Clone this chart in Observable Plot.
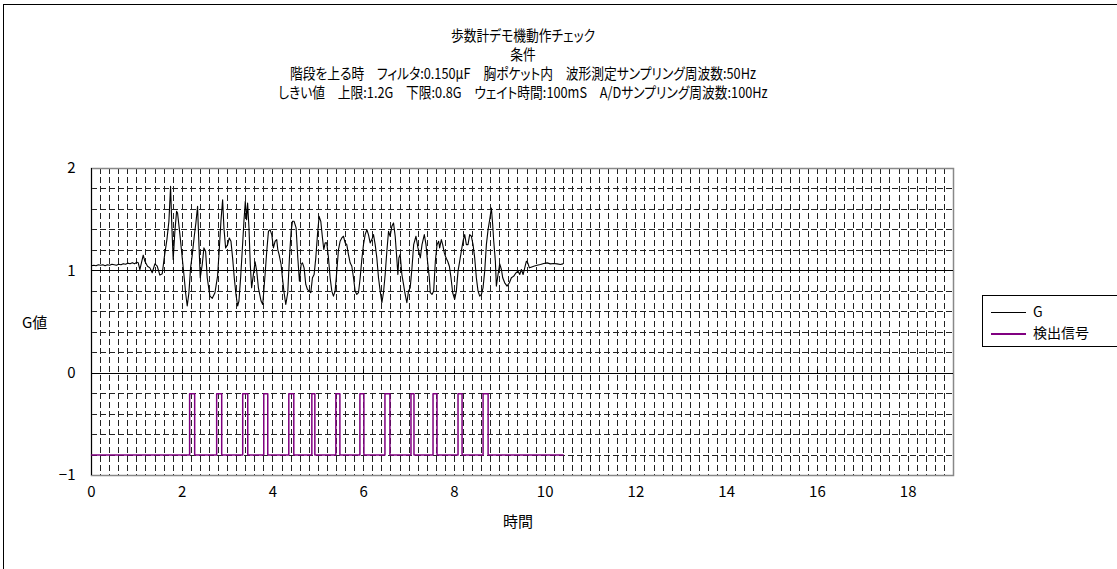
<!DOCTYPE html>
<html><head><meta charset="utf-8">
<script src="https://cdn.jsdelivr.net/npm/d3@7"></script>
<script src="https://cdn.jsdelivr.net/npm/@observablehq/plot@0.6"></script>
<style>
body{margin:0;background:#fff;font-family:"Noto Sans CJK JP",sans-serif;}
#wrap{position:relative;width:1117px;height:569px;overflow:hidden;background:#fff;}
#border{position:absolute;left:3px;top:4px;width:1300px;height:800px;border:1px solid #000;}
.t{position:absolute;left:0;width:1046px;text-align:center;font-size:15px;line-height:16px;color:#000;font-feature-settings:"palt";white-space:nowrap;transform:scaleX(0.85);transform-origin:523px 0;}
.lab{position:absolute;font-size:15px;line-height:16px;color:#000;white-space:nowrap;font-feature-settings:"palt";}
#legend{position:absolute;left:982px;top:295px;width:160px;height:50px;border:1px solid #000;background:#fff;}
.lg{position:absolute;left:8px;width:35px;}
.lt{position:absolute;left:50px;font-size:14px;line-height:15px;white-space:nowrap;}
#chart{position:absolute;left:0;top:0;}
</style></head>
<body>
<div id="wrap">
  <div id="border"></div>
  <div id="chart"></div>
  <div class="t" style="top:27px">歩数計デモ機動作チェック</div>
  <div class="t" style="top:46px">条件</div>
  <div class="t" style="top:65px">階段を上る時　フィルタ:0.150μF　胸ポケット内　波形測定サンプリング周波数:50Hz</div>
  <div class="t" style="top:84px">しきい値　上限:1.2G　下限:0.8G　ウェイト時間:100mS　A/Dサンプリング周波数:100Hz</div>
  <div class="lab" style="left:503px;top:513px">時間</div>
  <div class="lab" style="left:22px;top:314px">G値</div>
  <div id="legend">
    <div class="lg" style="top:16px;height:1px;background:#000"></div>
    <div class="lt" style="top:8px">G</div>
    <div class="lg" style="top:37px;height:2px;background:#800080"></div>
    <div class="lt" style="top:29px">検出信号</div>
  </div>
</div>
<script>
// tick labels
const xTicks = [0, 2, 4, 6, 8, 10, 12, 14, 16, 18];
const yTicks = [-1, 0, 1, 2];

// G series (time in s, value in G)
const gTime = [0,0.05,0.1,0.15,0.2,0.25,0.3,0.35,0.4,0.45,0.5,0.55,0.6,0.65,0.7,0.75,0.8,0.85,0.9,0.95,1.0,
1.03,1.066,1.14,1.176,1.235,1.287,1.338,1.397,1.449,1.507,1.559,1.603,1.662,1.706,1.743,1.772,1.801,1.838,1.875,1.897,1.949,2.0,
2.044,2.074,2.11,2.147,2.184,2.221,2.265,2.301,2.338,2.36,2.397,2.441,2.478,2.515,2.551,2.61,2.662,2.721,2.779,2.816,2.853,2.89,
2.919,2.956,3.0,3.037,3.074,3.11,3.147,3.184,3.221,3.25,3.287,3.324,3.36,3.39,3.419,3.441,3.471,3.5,3.529,
3.606,3.642,3.679,3.738,3.775,3.826,3.863,3.9,3.936,3.973,4.01,4.047,4.083,4.106,4.135,4.179,4.208,4.245,4.282,4.326,4.363,4.4,
4.429,4.466,4.488,4.51,4.547,4.583,4.62,4.65,4.686,4.723,4.76,4.797,4.834,4.87,4.907,4.944,4.981,5.017,5.054,5.091,5.12,5.15,
5.186,5.223,5.26,5.297,5.333,5.37,5.407,5.444,5.48,5.517,5.554,5.591,5.627,5.664,5.701,5.738,5.775,5.811,5.848,5.885,5.922,
5.958,5.995,6.032,6.069,6.105,6.142,6.179,6.216,6.253,6.289,6.326,6.363,6.4,6.436,6.473,6.51,6.547,6.583,6.62,6.657,6.694,
6.731,6.753,6.775,6.804,6.841,6.878,6.914,6.951,6.988,7.025,
7.064,7.101,7.152,7.196,7.248,7.285,7.336,7.373,7.41,7.446,7.468,7.505,7.542,7.579,7.616,7.652,7.674,7.711,7.741,7.777,7.814,
7.851,7.888,7.924,7.961,8.005,8.042,8.079,8.116,8.152,8.189,8.226,8.263,8.299,8.336,8.373,8.41,8.446,8.483,8.52,8.557,8.594,
8.63,8.667,8.704,8.741,8.777,8.814,8.843,8.866,8.902,8.924,8.961,8.998,9.035,9.064,9.108,9.16,9.211,9.255,9.307,9.358,9.402,
9.439,9.476,9.513,9.549,9.586,9.616,9.652,9.689,9.748,9.821,9.895,9.968,10.042,10.115,10.189,10.262,10.336,10.387];
const gValue = [1.05,1.055,1.05,1.06,1.055,1.06,1.05,1.06,1.055,1.065,1.06,1.055,1.065,1.06,1.07,1.065,1.075,1.07,1.08,1.07,1.085,
1.078,1.013,1.153,1.094,1.045,1.029,0.981,1.068,1.045,0.958,0.971,1.127,1.305,1.484,1.825,1.419,1.11,1.386,1.581,1.565,1.354,1.127,
0.932,0.786,0.656,0.786,1.029,1.159,1.338,1.468,1.63,1.354,0.932,1.062,1.224,1.192,0.932,0.753,0.731,0.786,0.948,1.208,1.484,1.695,
1.419,1.224,1.256,1.321,1.289,1.127,0.932,0.769,0.656,0.705,0.932,1.208,1.484,1.679,1.5,1.662,1.419,1.062,0.834,
1.088,0.997,0.834,0.705,0.672,0.964,1.192,1.386,1.403,1.354,1.224,1.289,1.305,1.208,1.159,1.062,0.932,0.786,0.672,0.786,1.127,1.386,
1.484,1.484,1.451,1.419,1.127,0.899,1.062,1.078,1.029,0.867,0.818,0.802,0.786,0.932,0.964,1.127,1.354,1.532,1.484,1.321,1.208,1.273,
1.273,1.127,0.932,0.802,0.753,0.802,0.997,1.208,1.289,1.321,1.338,1.273,1.256,1.159,1.078,1.045,0.932,0.802,0.769,0.786,0.932,
1.11,1.256,1.354,1.403,1.354,1.273,1.305,1.354,1.256,1.127,0.932,0.802,0.688,0.786,0.964,1.192,1.386,1.338,1.435,1.468,1.338,
1.11,0.964,1.127,1.159,0.964,0.867,0.769,0.688,0.802,0.834,
1.029,1.256,1.338,1.224,1.127,1.256,1.354,1.256,1.078,0.932,0.786,0.769,0.802,1.094,1.256,1.289,1.224,1.305,1.256,1.175,1.127,
1.094,1.045,0.932,0.786,0.721,0.802,0.997,1.094,1.192,1.289,1.354,1.256,1.256,1.354,1.338,1.256,1.127,0.932,0.802,0.753,0.769,
0.834,0.997,1.256,1.403,1.5,1.614,1.451,1.289,1.094,0.851,0.964,1.068,1.013,0.932,0.883,0.851,0.883,0.932,0.948,0.981,0.997,
0.964,1.013,0.964,1.029,1.094,1.078,1.029,1.036,1.045,1.055,1.062,1.071,1.078,1.068,1.071,1.068,1.062,1.068];

// detection signal (step changes)
const sigTime = [0, 2.163, 2.274, 2.759, 2.870, 3.333, 3.444, 3.797, 3.885, 4.349, 4.459, 4.857, 4.923, 5.386, 5.475,
  5.916, 6.004, 6.468, 6.578, 7.042, 7.108, 7.528, 7.616, 8.079, 8.168, 8.631, 8.742, 10.397];
const sigValue = [-0.8, -0.2, -0.8, -0.2, -0.8, -0.2, -0.8, -0.2, -0.8, -0.2, -0.8, -0.2, -0.8, -0.2, -0.8,
  -0.2, -0.8, -0.2, -0.8, -0.2, -0.8, -0.2, -0.8, -0.2, -0.8, -0.2, -0.8, -0.8];

const gData = gTime.map((t, i) => ({t, v: gValue[i]}));
const sigData = sigTime.map((t, i) => ({t, v: sigValue[i]}));

const xMinor = d3.range(1, 95).map(i => i * 0.2);
const yMinor = d3.range(-4, 10).map(i => i * 0.2).filter(v => Math.abs(v) > 1e-9 && Math.abs(v - 1) > 1e-9);

const chart = Plot.plot({
  width: 1117, height: 569,
  marginLeft: 91, marginRight: 164, marginTop: 168, marginBottom: 94,
  style: {fontFamily: "'Noto Sans CJK JP', sans-serif", fontSize: "15px", background: "transparent", color: "#000"},
  x: {domain: [0, 19], ticks: xTicks, tickSize: 0, tickPadding: 11, label: null, tickFormat: d => String(d)},
  y: {domain: [-1, 2], ticks: yTicks, tickSize: 0, tickPadding: 16, label: null,
      tickFormat: d => d < 0 ? "\u2212" + Math.abs(d) : String(d)},
  marks: [
    Plot.ruleX(xMinor, {stroke: "#222", strokeWidth: 1, strokeDasharray: "6,3", shapeRendering: "crispEdges"}),
    Plot.ruleY(yMinor, {stroke: "#222", strokeWidth: 1, strokeDasharray: "6,3", shapeRendering: "crispEdges"}),
    Plot.frame({stroke: "#888", strokeWidth: 1.5}),
    Plot.ruleY([0, 1], {stroke: "#000", strokeWidth: 1, shapeRendering: "crispEdges"}),
    Plot.ruleX([0], {stroke: "#000", strokeWidth: 1, shapeRendering: "crispEdges"}),
    Plot.ruleX(xTicks, {y1: 0, y2: 0.04, stroke: "#000", strokeWidth: 1, shapeRendering: "crispEdges"}),
    Plot.line(sigData, {x: "t", y: "v", stroke: "#800080", strokeWidth: 1.5, curve: "step-after"}),
    Plot.line(gData, {x: "t", y: "v", stroke: "#000", strokeWidth: 1.1})
  ]
});
document.getElementById("chart").appendChild(chart);
</script>
</body></html>
